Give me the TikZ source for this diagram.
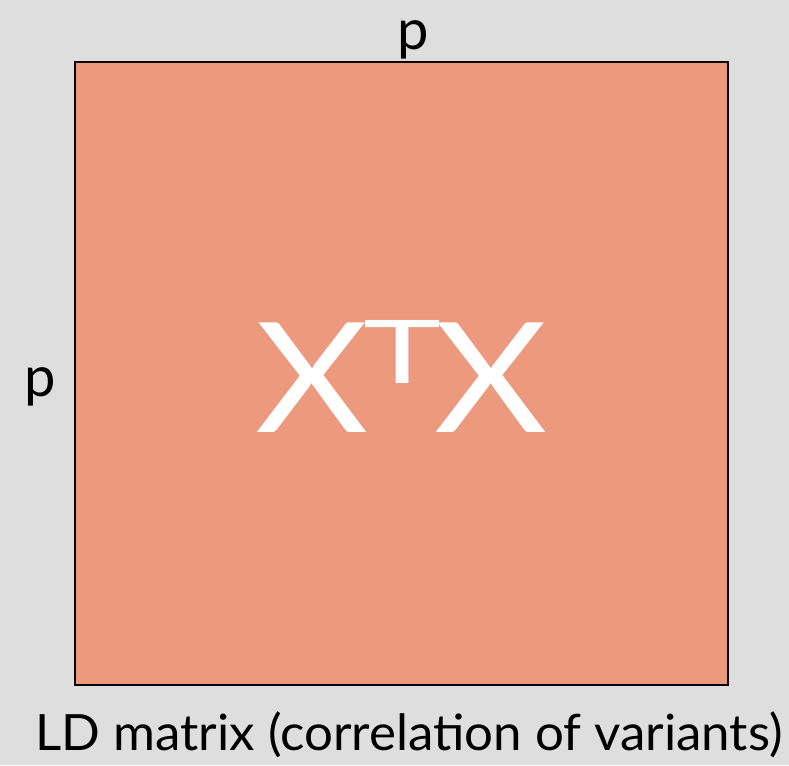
\documentclass[tikz,border=0pt]{standalone}
\usepackage{fontspec}
\setmainfont{Lato}
\definecolor{bg}{HTML}{DEDEDE}
\definecolor{salmon}{HTML}{EC997D}
\begin{document}
\begin{tikzpicture}[x=1pt,y=-1pt,
  lbl/.style={inner sep=0pt,text=black}]
\fill[bg] (0,0) rectangle (789,765);
\useasboundingbox (0,0) rectangle (789,765);
\draw[line width=2pt,fill=salmon] (75,62) rectangle (728,685);
\node[lbl,anchor=base] (ptop) at (413,50) {\fontsize{56}{56}\selectfont p};
\node[lbl,anchor=base] (pleft) at (40,396) {\fontsize{56}{56}\selectfont p};
\node[lbl,anchor=base,text=white] (xtx) at (402,432) {\fontsize{153}{153}\selectfont \scalebox{1.14}[1]{X}\hspace{-6pt}\raisebox{49pt}{\scalebox{1.5}[1]{\fontsize{88}{88}\selectfont T}}\hspace{-6pt}\scalebox{1.14}[1]{X}};
\node[lbl,anchor=base] (cap) at (409,750) {\scalebox{1.02}[1]{\fontsize{50}{50}\selectfont LD matrix (correlation of variants)}};
\end{tikzpicture}
\end{document}
